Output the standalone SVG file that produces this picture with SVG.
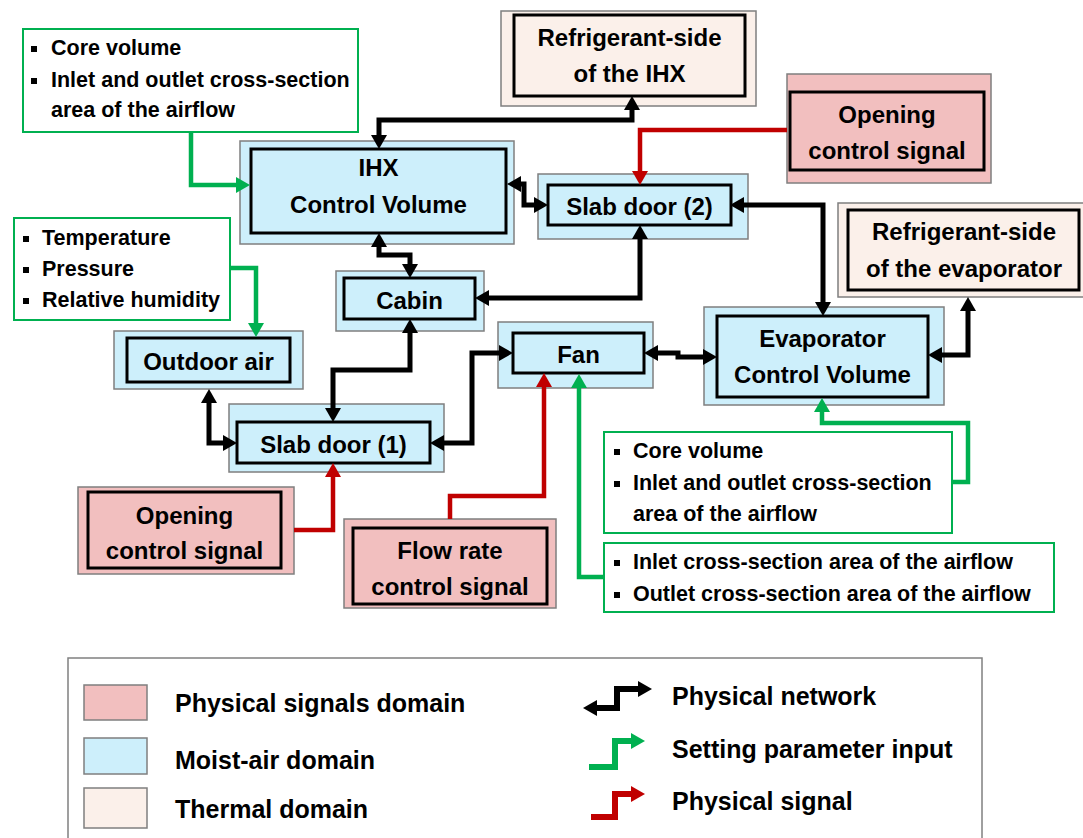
<svg xmlns="http://www.w3.org/2000/svg" width="1083" height="838" viewBox="0 0 1083 838">
<style>
text{font-family:"Liberation Sans",Arial,sans-serif;font-weight:bold;fill:#000}
.n{font-size:24px;text-anchor:middle}
.l{font-size:21.5px}
.g{font-size:25px}
.o{stroke:#7f7f7f;stroke-width:1.5}
.sig{fill:#f2bfbf}
.air{fill:#cdeffb}
.th{fill:#fbf0ea}
.in{fill:none;stroke:#000;stroke-width:3}
.gb{fill:#fff;stroke:#00b050;stroke-width:2}
.cb{fill:none;stroke:#000;stroke-width:5}
.cg{fill:none;stroke:#00b050;stroke-width:4.5}
.cr{fill:none;stroke:#c00000;stroke-width:4.5}
</style>
<defs>
<marker id="ab" markerUnits="userSpaceOnUse" markerWidth="16" markerHeight="16" refX="4" refY="8" orient="auto-start-reverse"><path d="M0,0 L14,8 L0,16 z" fill="#000"/></marker>
<marker id="ag" markerUnits="userSpaceOnUse" markerWidth="16" markerHeight="16" refX="4" refY="8" orient="auto"><path d="M0,0 L14,8 L0,16 z" fill="#00b050"/></marker>
<marker id="ar" markerUnits="userSpaceOnUse" markerWidth="16" markerHeight="16" refX="4" refY="8" orient="auto"><path d="M0,0 L14,8 L0,16 z" fill="#c00000"/></marker>
</defs>
<rect width="1083" height="838" fill="#fff"/>

<g id="ihx_params">
<rect class="gb" x="23" y="29" width="335" height="103"/>
<rect x="31" y="46" width="6" height="6"/><rect x="31" y="78" width="6" height="6"/>
<text class="l" x="51" y="55">Core volume</text>
<text class="l" x="51" y="87">Inlet and outlet cross-section</text>
<text class="l" x="51" y="117">area of the airflow</text>
</g>

<g id="ref_ihx">
<rect class="o th" x="501" y="11" width="255" height="95"/>
<rect class="in" x="514" y="15" width="231" height="81"/>
<text class="n" x="629.5" y="46">Refrigerant-side</text>
<text class="n" x="629.5" y="82">of the IHX</text>
</g>

<g id="opening_top">
<rect class="o sig" x="787" y="74" width="204" height="109"/>
<rect class="in" x="790" y="92" width="194" height="78"/>
<text class="n" x="887" y="123">Opening</text>
<text class="n" x="887" y="159">control signal</text>
</g>

<g id="ihx_cv">
<rect class="o air" x="240" y="141" width="274" height="103"/>
<rect class="in" x="251" y="149" width="255" height="84"/>
<text class="n" x="378.5" y="176">IHX</text>
<text class="n" x="378.5" y="213">Control Volume</text>
</g>

<g id="slab_door_2">
<rect class="o air" x="538" y="174" width="210" height="65"/>
<rect class="in" x="548" y="185" width="183" height="40"/>
<text class="n" x="639.5" y="215">Slab door (2)</text>
</g>

<g id="ref_evap">
<rect class="o th" x="838" y="203" width="250" height="94"/>
<rect class="in" x="848" y="210" width="231" height="80"/>
<text class="n" x="964" y="240">Refrigerant-side</text>
<text class="n" x="964" y="277">of the evaporator</text>
</g>

<g id="ambient_params">
<rect class="gb" x="14" y="218" width="216" height="102"/>
<rect x="23" y="236" width="6" height="6"/><rect x="23" y="267" width="6" height="6"/><rect x="23" y="298" width="6" height="6"/>
<text class="l" x="42" y="245">Temperature</text>
<text class="l" x="42" y="276">Pressure</text>
<text class="l" x="42" y="307">Relative humidity</text>
</g>

<g id="cabin">
<rect class="o air" x="336" y="271" width="148" height="60"/>
<rect class="in" x="344" y="278" width="131" height="41"/>
<text class="n" x="409.5" y="309">Cabin</text>
</g>

<g id="outdoor_air">
<rect class="o air" x="114" y="331" width="189" height="58"/>
<rect class="in" x="127" y="338" width="163" height="44"/>
<text class="n" x="208.5" y="370">Outdoor air</text>
</g>

<g id="fan">
<rect class="o air" x="498" y="322" width="155" height="66"/>
<rect class="in" x="513" y="333" width="131" height="40"/>
<text class="n" x="578.5" y="363">Fan</text>
</g>

<g id="evap_cv">
<rect class="o air" x="704" y="307" width="240" height="98"/>
<rect class="in" x="717" y="316" width="211" height="81"/>
<text class="n" x="822.5" y="347">Evaporator</text>
<text class="n" x="822.5" y="383">Control Volume</text>
</g>

<g id="slab_door_1">
<rect class="o air" x="229" y="404" width="215" height="68"/>
<rect class="in" x="237" y="422" width="193" height="41"/>
<text class="n" x="333.5" y="453">Slab door (1)</text>
</g>

<g id="evap_params">
<rect class="gb" x="604" y="432" width="348" height="101"/>
<rect x="614" y="449" width="6" height="6"/><rect x="614" y="481" width="6" height="6"/>
<text class="l" x="633" y="458">Core volume</text>
<text class="l" x="633" y="490">Inlet and outlet cross-section</text>
<text class="l" x="633" y="521">area of the airflow</text>
</g>

<g id="opening_bottom">
<rect class="o sig" x="78" y="487" width="216" height="87"/>
<rect class="in" x="88" y="492" width="193" height="76"/>
<text class="n" x="184.5" y="524">Opening</text>
<text class="n" x="184.5" y="559">control signal</text>
</g>

<g id="flow_rate">
<rect class="o sig" x="344" y="519" width="212" height="89"/>
<rect class="in" x="353" y="528" width="194" height="76"/>
<text class="n" x="450" y="559">Flow rate</text>
<text class="n" x="450" y="595">control signal</text>
</g>

<g id="fan_params">
<rect class="gb" x="604" y="543" width="450" height="69"/>
<rect x="614" y="560" width="6" height="6"/><rect x="614" y="592" width="6" height="6"/>
<text class="l" x="633" y="569">Inlet cross-section area of the airflow</text>
<text class="l" x="633" y="601">Outlet cross-section area of the airflow</text>
</g>

<g id="connectors">
<path class="cb" d="M379,139 V120 H632 V106" marker-start="url(#ab)" marker-end="url(#ab)"/>
<path class="cb" d="M517,184 H524 V205 H538" marker-start="url(#ab)" marker-end="url(#ab)"/>
<path class="cb" d="M379,243 V255 H410 V268" marker-start="url(#ab)" marker-end="url(#ab)"/>
<path class="cb" d="M485,298 H640 V235" marker-start="url(#ab)" marker-end="url(#ab)"/>
<path class="cb" d="M740,205 H823 V306" marker-start="url(#ab)" marker-end="url(#ab)"/>
<path class="cb" d="M938,355 H968 V307" marker-start="url(#ab)" marker-end="url(#ab)"/>
<path class="cb" d="M654,353 H678 V357 H707" marker-start="url(#ab)" marker-end="url(#ab)"/>
<path class="cb" d="M410,329 V370 H333 V412" marker-start="url(#ab)" marker-end="url(#ab)"/>
<path class="cb" d="M209,399 V443 H227" marker-start="url(#ab)" marker-end="url(#ab)"/>
<path class="cb" d="M440,443 H472 V353 H503" marker-start="url(#ab)" marker-end="url(#ab)"/>
<path class="cg" d="M191,132 V185 H240" marker-end="url(#ag)"/>
<path class="cg" d="M230,268 H256 V327" marker-end="url(#ag)"/>
<path class="cg" d="M952,482 H968 V423 H822 V408" marker-end="url(#ag)"/>
<path class="cg" d="M604,577 H579 V384" marker-end="url(#ag)"/>
<path class="cr" d="M787,130 H640 V175" marker-end="url(#ar)"/>
<path class="cr" d="M294,530 H333 V473" marker-end="url(#ar)"/>
<path class="cr" d="M450,519 V496 H544 V383" marker-end="url(#ar)"/>
</g>

<g id="legend">
<rect x="68" y="658" width="914" height="200" fill="#fff" stroke="#808080" stroke-width="1.5"/>
<rect class="o sig" x="84" y="685" width="63" height="35"/>
<rect class="o air" x="84" y="738" width="63" height="36"/>
<rect class="o th" x="84" y="788" width="63" height="40"/>
<text class="g" x="175" y="712">Physical signals domain</text>
<text class="g" x="175" y="769">Moist-air domain</text>
<text class="g" x="175" y="818">Thermal domain</text>
<path fill="none" stroke="#000" stroke-width="6" d="M593,708 H617 V689 H642" marker-start="url(#ab)" marker-end="url(#ab)"/>
<path fill="none" stroke="#00b050" stroke-width="6" d="M589,767 H615 V741 H635" marker-end="url(#ag)"/>
<path fill="none" stroke="#c00000" stroke-width="6" d="M591,817 H615 V794 H635" marker-end="url(#ar)"/>
<text class="g" x="672" y="705">Physical network</text>
<text class="g" x="672" y="758">Setting parameter input</text>
<text class="g" x="672" y="810">Physical signal</text>
</g>
</svg>
